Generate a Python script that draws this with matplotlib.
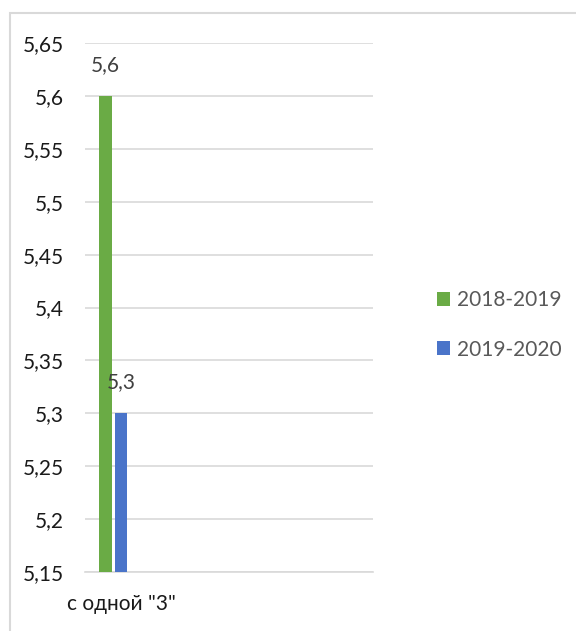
import matplotlib.pyplot as plt
from matplotlib.patches import Rectangle

categories = ['с одной "3"']
series = ['2018-2019', '2019-2020']
values = [[5.6], [5.3]]
value_labels = [['5,6'], ['5,3']]
yticks = [5.15, 5.2, 5.25, 5.3, 5.35, 5.4, 5.45, 5.5, 5.55, 5.6, 5.65]
ytick_labels = ['5,15', '5,2', '5,25', '5,3', '5,35', '5,4', '5,45', '5,5', '5,55', '5,6', '5,65']

colors = ['#6AAB45', '#4A74C9']
W, H = 576, 631

plt.rcParams['font.family'] = ['Lato', 'DejaVu Sans']
fig = plt.figure(figsize=(W / 100, H / 100), dpi=100)
fig.patches.append(Rectangle((10 / W, -0.1), 1.2, 1 - 13 / H + 0.1, transform=fig.transFigure,
                             fill=False, edgecolor='#D9D9D9', linewidth=1.5))

ax = fig.add_axes([85 / W, (H - 572) / H, (373 - 85) / W, (572 - 43) / H])
ymin = yticks[0]
offsets = [-0.215, 0.0]
width = 0.18
for i, name in enumerate(series):
    xs = [j + offsets[i] for j in range(len(categories))]
    heights = [v - ymin for v in values[i]]
    ax.bar(xs, heights, width, bottom=ymin, color=colors[i], label=name, zorder=3)
    for x, v, lab in zip(xs, values[i], value_labels[i]):
        ax.text(x, v + 0.02, lab, ha='center', va='bottom', fontsize=15, color='#404040', zorder=4)

ax.set_xlim(-0.5, 3.5)
ax.set_ylim(yticks[0], yticks[-1])
ax.set_yticks(yticks)
ax.set_yticklabels(ytick_labels, fontsize=15, color='#1A1A1A')
ax.set_xticks(range(len(categories)))
ax.set_xticklabels(categories, fontsize=15, color='#1A1A1A')
ax.tick_params(axis='both', length=0)
ax.tick_params(axis='y', pad=15)
ax.tick_params(axis='x', pad=16)
ax.grid(axis='y', color='#D9D9D9', linewidth=1.2, zorder=0)
for s in ['top', 'right', 'left']:
    ax.spines[s].set_visible(False)
ax.spines['bottom'].set_color('#D9D9D9')
ax.spines['bottom'].set_linewidth(1.2)

leg = fig.legend(loc='center left', bbox_to_anchor=(418 / W, 1 - 325 / H), frameon=False,
                 fontsize=15, handlelength=0.65, handleheight=0.65, handletextpad=0.3,
                 labelspacing=1.4, labelcolor='#595959')

fig.savefig('out.png', dpi=100)
